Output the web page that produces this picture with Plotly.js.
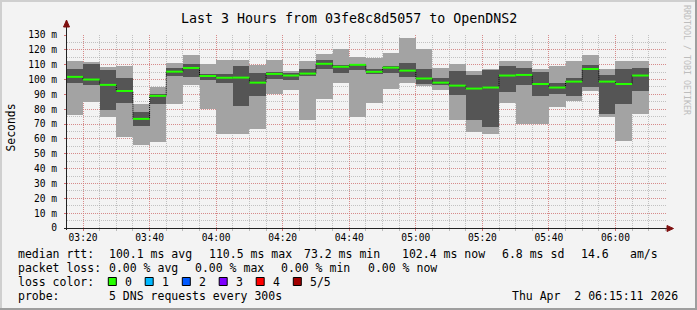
<!DOCTYPE html>
<html>
<head>
<meta charset="utf-8">
<script src="https://cdn.plot.ly/plotly-3.0.1.min.js"></script>
<style>
html,body{margin:0;padding:0;background:#f3f3f3;}
#chart{width:697px;height:310px;}
</style>
</head>
<body>
<div id="chart"></div>
<script>
// ---- data (ms), one entry per 5-minute step starting 03:15 ----
const stepStartMin = [195,200,205,210,215,220,225,230,235,240,245,250,255,260,265,270,275,280,285,290,295,300,305,310,315,320,325,330,335,340,345,350,355,360,365];
const pingMin   = [76.2,85.2,75.1,61.6,56.0,57.6,83.8,96.4,80.2,63.4,63.4,66.8,90.1,93.0,72.8,86.9,97.7,75.0,84.4,93.8,97.9,95.8,93.0,72.8,65.0,63.4,84.3,70.1,70.1,81.8,85.8,92.6,75.1,58.3,76.9];
const pingLow   = [97.9,96.4,79.8,84.5,69.0,83.4,102.6,102.0,100.0,97.9,82.3,89.0,100.4,99.7,102.6,107.3,104.7,106.7,104.0,104.7,101.7,97.0,96.4,89.6,72.8,67.7,91.4,96.4,89.0,90.3,89.0,95.3,76.9,83.6,92.6];
const median    = [101.8,100.0,96.4,92.3,73.5,89.0,105.3,107.8,102.4,101.2,101.3,97.9,103.8,102.7,104.0,110.6,108.6,109.9,105.2,108.0,106.0,100.7,97.9,95.9,93.9,94.6,102.7,103.1,97.0,94.6,98.6,107.1,98.6,97.0,102.7];
const pingHigh  = [107.1,110.5,106.5,100.9,78.4,90.1,108.0,110.3,104.0,103.8,109.2,104.7,104.9,104.5,107.1,113.2,109.7,110.7,107.0,109.2,111.3,107.1,101.1,105.8,103.1,106.5,109.2,108.0,105.3,97.9,100.9,109.8,103.1,107.1,108.0];
const pingMax   = [112.5,111.6,108.3,109.2,83.6,95.3,111.2,116.5,110.5,113.2,113.2,109.8,113.2,105.5,112.6,117.2,120.6,115.1,114.5,117.9,128.0,120.6,107.9,110.5,105.8,107.1,112.5,112.5,107.1,109.2,112.5,116.5,107.1,112.5,112.5];
const yTickVals   = [0,10,20,30,40,50,60,70,80,90,100,110,120,130];
const yTickLabels = ["0","10 m","20 m","30 m","40 m","50 m","60 m","70 m","80 m","90 m","100 m","110 m","120 m","130 m"];
const xTickMin    = [200,220,240,260,280,300,320,340,360];
const xTickLabels = ["03:20","03:40","04:00","04:20","04:40","05:00","05:20","05:40","06:00"];
const lossLabels  = ["0","1","2","3","4","5/5"];
const lossColors  = ["#26ff00","#00b8ff","#0059ff","#7e00ff","#ff0000","#a10000"];
const titleText = "Last 3 Hours from 03fe8c8d5057 to OpenDNS2";
const statsLine1 = ["median rtt:","100.1 ms avg","110.5 ms max","73.2 ms min","102.4 ms now","6.8 ms sd","14.6","am/s"];
const statsLine2 = ["packet loss:","0.00 % avg","0.00 % max","0.00 % min","0.00 % now"];
const statsLine4 = ["probe:","5 DNS requests every 300s"];
const stampText = "Thu Apr\u00a0\u00a02 06:15:11 2026";
const STEP = 5;

// ---- helpers ----
function t(min){ // minutes since 00:00 (may be fractional) -> date string
  const s = Math.round(min*60);
  const hh = String(Math.floor(s/3600)).padStart(2,'0');
  const mm = String(Math.floor((s%3600)/60)).padStart(2,'0');
  const ss = String(s%60).padStart(2,'0');
  return "2026-04-02 " + hh + ":" + mm + ":" + ss;
}
const W=697,H=310,ML=67,MR=31,MT=35,MB=82;
const PW=W-ML-MR, PH=H-MT-MB;
const px = v => (v-ML)/PW;
const py = v => (H-MB-v)/PH;
const mono = "DejaVu Sans Mono";

const centers = stepStartMin.map(m => t(m+STEP/2));
const traces = [];
traces.push({type:'bar', x:centers, base:pingMin, y:pingMax.map((v,i)=>v-pingMin[i]),
  width:STEP*60000, marker:{color:'#a3a3a3', line:{width:0}}, hoverinfo:'skip'});
traces.push({type:'bar', x:centers, base:pingLow, y:pingHigh.map((v,i)=>v-pingLow[i]),
  width:STEP*60000, marker:{color:'#555555', line:{width:0}}, hoverinfo:'skip'});
// black dotted step connector
const stepX = stepStartMin.map(m=>t(m)).concat([t(stepStartMin[stepStartMin.length-1]+STEP)]);
const stepY = median.concat([median[median.length-1]]);
traces.push({type:'scatter', mode:'lines', x:stepX, y:stepY, line:{shape:'hv', color:'#000', width:1, dash:'1px,1px'}, hoverinfo:'skip'});
// green median segments
const gx=[], gy=[];
stepStartMin.forEach((m,i)=>{ gx.push(t(m), t(m+STEP), null); gy.push(median[i], median[i], null); });
traces.push({type:'scatter', mode:'lines', x:gx, y:gy, line:{color:lossColors[0], width:2}, hoverinfo:'skip', connectgaps:false});

const shapes = [];
// frame
shapes.push({type:'rect', xref:'paper', yref:'paper', x0:px(0), x1:px(W), y0:py(H), y1:py(0), fillcolor:'#f3f3f3', line:{width:0}, layer:'below'});
shapes.push({type:'line', xref:'paper', yref:'paper', x0:px(0), x1:px(W), y0:py(1), y1:py(1), line:{color:'#cfcfcf', width:2}});
shapes.push({type:'line', xref:'paper', yref:'paper', x0:px(1), x1:px(1), y0:py(0), y1:py(H), line:{color:'#cfcfcf', width:2}});
shapes.push({type:'line', xref:'paper', yref:'paper', x0:px(0), x1:px(W), y0:py(H-1), y1:py(H-1), line:{color:'#9e9e9e', width:2}});
shapes.push({type:'line', xref:'paper', yref:'paper', x0:px(W-1), x1:px(W-1), y0:py(0), y1:py(H), line:{color:'#9e9e9e', width:2}});
// axes
shapes.push({type:'line', xref:'paper', yref:'paper', x0:px(66.5), x1:px(66.5), y0:py(230), y1:py(26), line:{color:'#222', width:1}});
shapes.push({type:'line', xref:'paper', yref:'paper', x0:px(64), x1:px(668), y0:py(228.5), y1:py(228.5), line:{color:'#222', width:1}});
shapes.push({type:'path', xref:'paper', yref:'paper',
  path:`M ${px(63.5)} ${py(27)} L ${px(69.5)} ${py(27)} L ${px(66.5)} ${py(20)} Z`, fillcolor:'#7f1010', line:{color:'#7f1010', width:1}});
shapes.push({type:'path', xref:'paper', yref:'paper',
  path:`M ${px(667)} ${py(225.5)} L ${px(667)} ${py(231.5)} L ${px(673.5)} ${py(228.5)} Z`, fillcolor:'#7f1010', line:{color:'#7f1010', width:1}});

const ann = [];
function txt(x,y,s,opt){ ann.push(Object.assign({xref:'paper', yref:'paper', x:px(x), y:py(y), text:s, showarrow:false,
  xanchor:'left', yanchor:'middle', font:{family:mono, size:11.5, color:'#000'}}, opt||{})); }
txt(348.5, 19, titleText, {xanchor:'center', font:{family:mono, size:13.3, color:'#000'}});
txt(10.5, 128, "Seconds", {xanchor:'center', textangle:-90, font:{family:mono, size:11.4, color:'#000'}});
txt(687, 60, "RRDTOOL / TOBI OETIKER", {xanchor:'center', textangle:90, font:{family:mono, size:8.3, color:'#bdbdbd'}});
const l1x=[16,107.3,207.3,301.7,400.3,499.7,579.3,628];
statsLine1.forEach((s,i)=>txt(l1x[i],254,s));
const l2x=[16,107.3,193.3,279.3,366];
statsLine2.forEach((s,i)=>txt(l2x[i],268,s));
txt(16,281.5,"loss color:");
const boxX=[108.3,145.2,182.3,219.2,256.2,293.3];
lossLabels.forEach((s,i)=>{
  shapes.push({type:'rect', xref:'paper', yref:'paper', x0:px(boxX[i]), x1:px(boxX[i]+8), y0:py(277.5), y1:py(285.5),
    fillcolor:lossColors[i], line:{color:'#000', width:1}});
  txt(boxX[i]+15, 281.5, s);
});
const l4x=[16,107.3];
statsLine4.forEach((s,i)=>txt(l4x[i],296,s));
txt(680.5, 296, stampText, {xanchor:'right'});

const layout = {
  width:W, height:H, margin:{l:ML, r:MR, t:MT, b:MB, pad:0},
  paper_bgcolor:'#f3f3f3', plot_bgcolor:'#ffffff',
  showlegend:false, barmode:'overlay', bargap:0,
  font:{family:mono, color:'#000'},
  xaxis:{type:'date', range:[t(195+11/60), t(375+11/60)], tickvals:xTickMin.map(t), ticktext:xTickLabels,
    showgrid:true, gridcolor:'rgba(220,120,120,0.75)', griddash:'1px,1px', gridwidth:1,
    ticks:'outside', ticklen:2, tickcolor:'#d07070', tickfont:{family:mono, size:9.6, color:'#000'}, ticklabelstandoff:-2,
    minor:{dtick:STEP*60000, tick0:t(195), showgrid:true, gridcolor:'rgba(160,160,160,0.6)', griddash:'1px,1px', gridwidth:1, ticks:'outside', ticklen:2, tickcolor:'#bbb'},
    showline:false, zeroline:false, fixedrange:true},
  yaxis:{range:[0,130], tickvals:yTickVals, ticktext:yTickLabels,
    showgrid:true, gridcolor:'rgba(220,120,120,0.75)', griddash:'1px,1px', gridwidth:1,
    ticks:'outside', ticklen:2, tickcolor:'#d07070', tickfont:{family:mono, size:9.6, color:'#000'}, ticklabelstandoff:5,
    minor:{dtick:5, tick0:0, showgrid:true, gridcolor:'rgba(160,160,160,0.6)', griddash:'1px,1px', gridwidth:1},
    showline:false, zeroline:false, fixedrange:true},
  shapes:shapes, annotations:ann
};
Plotly.newPlot('chart', traces, layout, {staticPlot:true, displayModeBar:false});
</script>
</body>
</html>
